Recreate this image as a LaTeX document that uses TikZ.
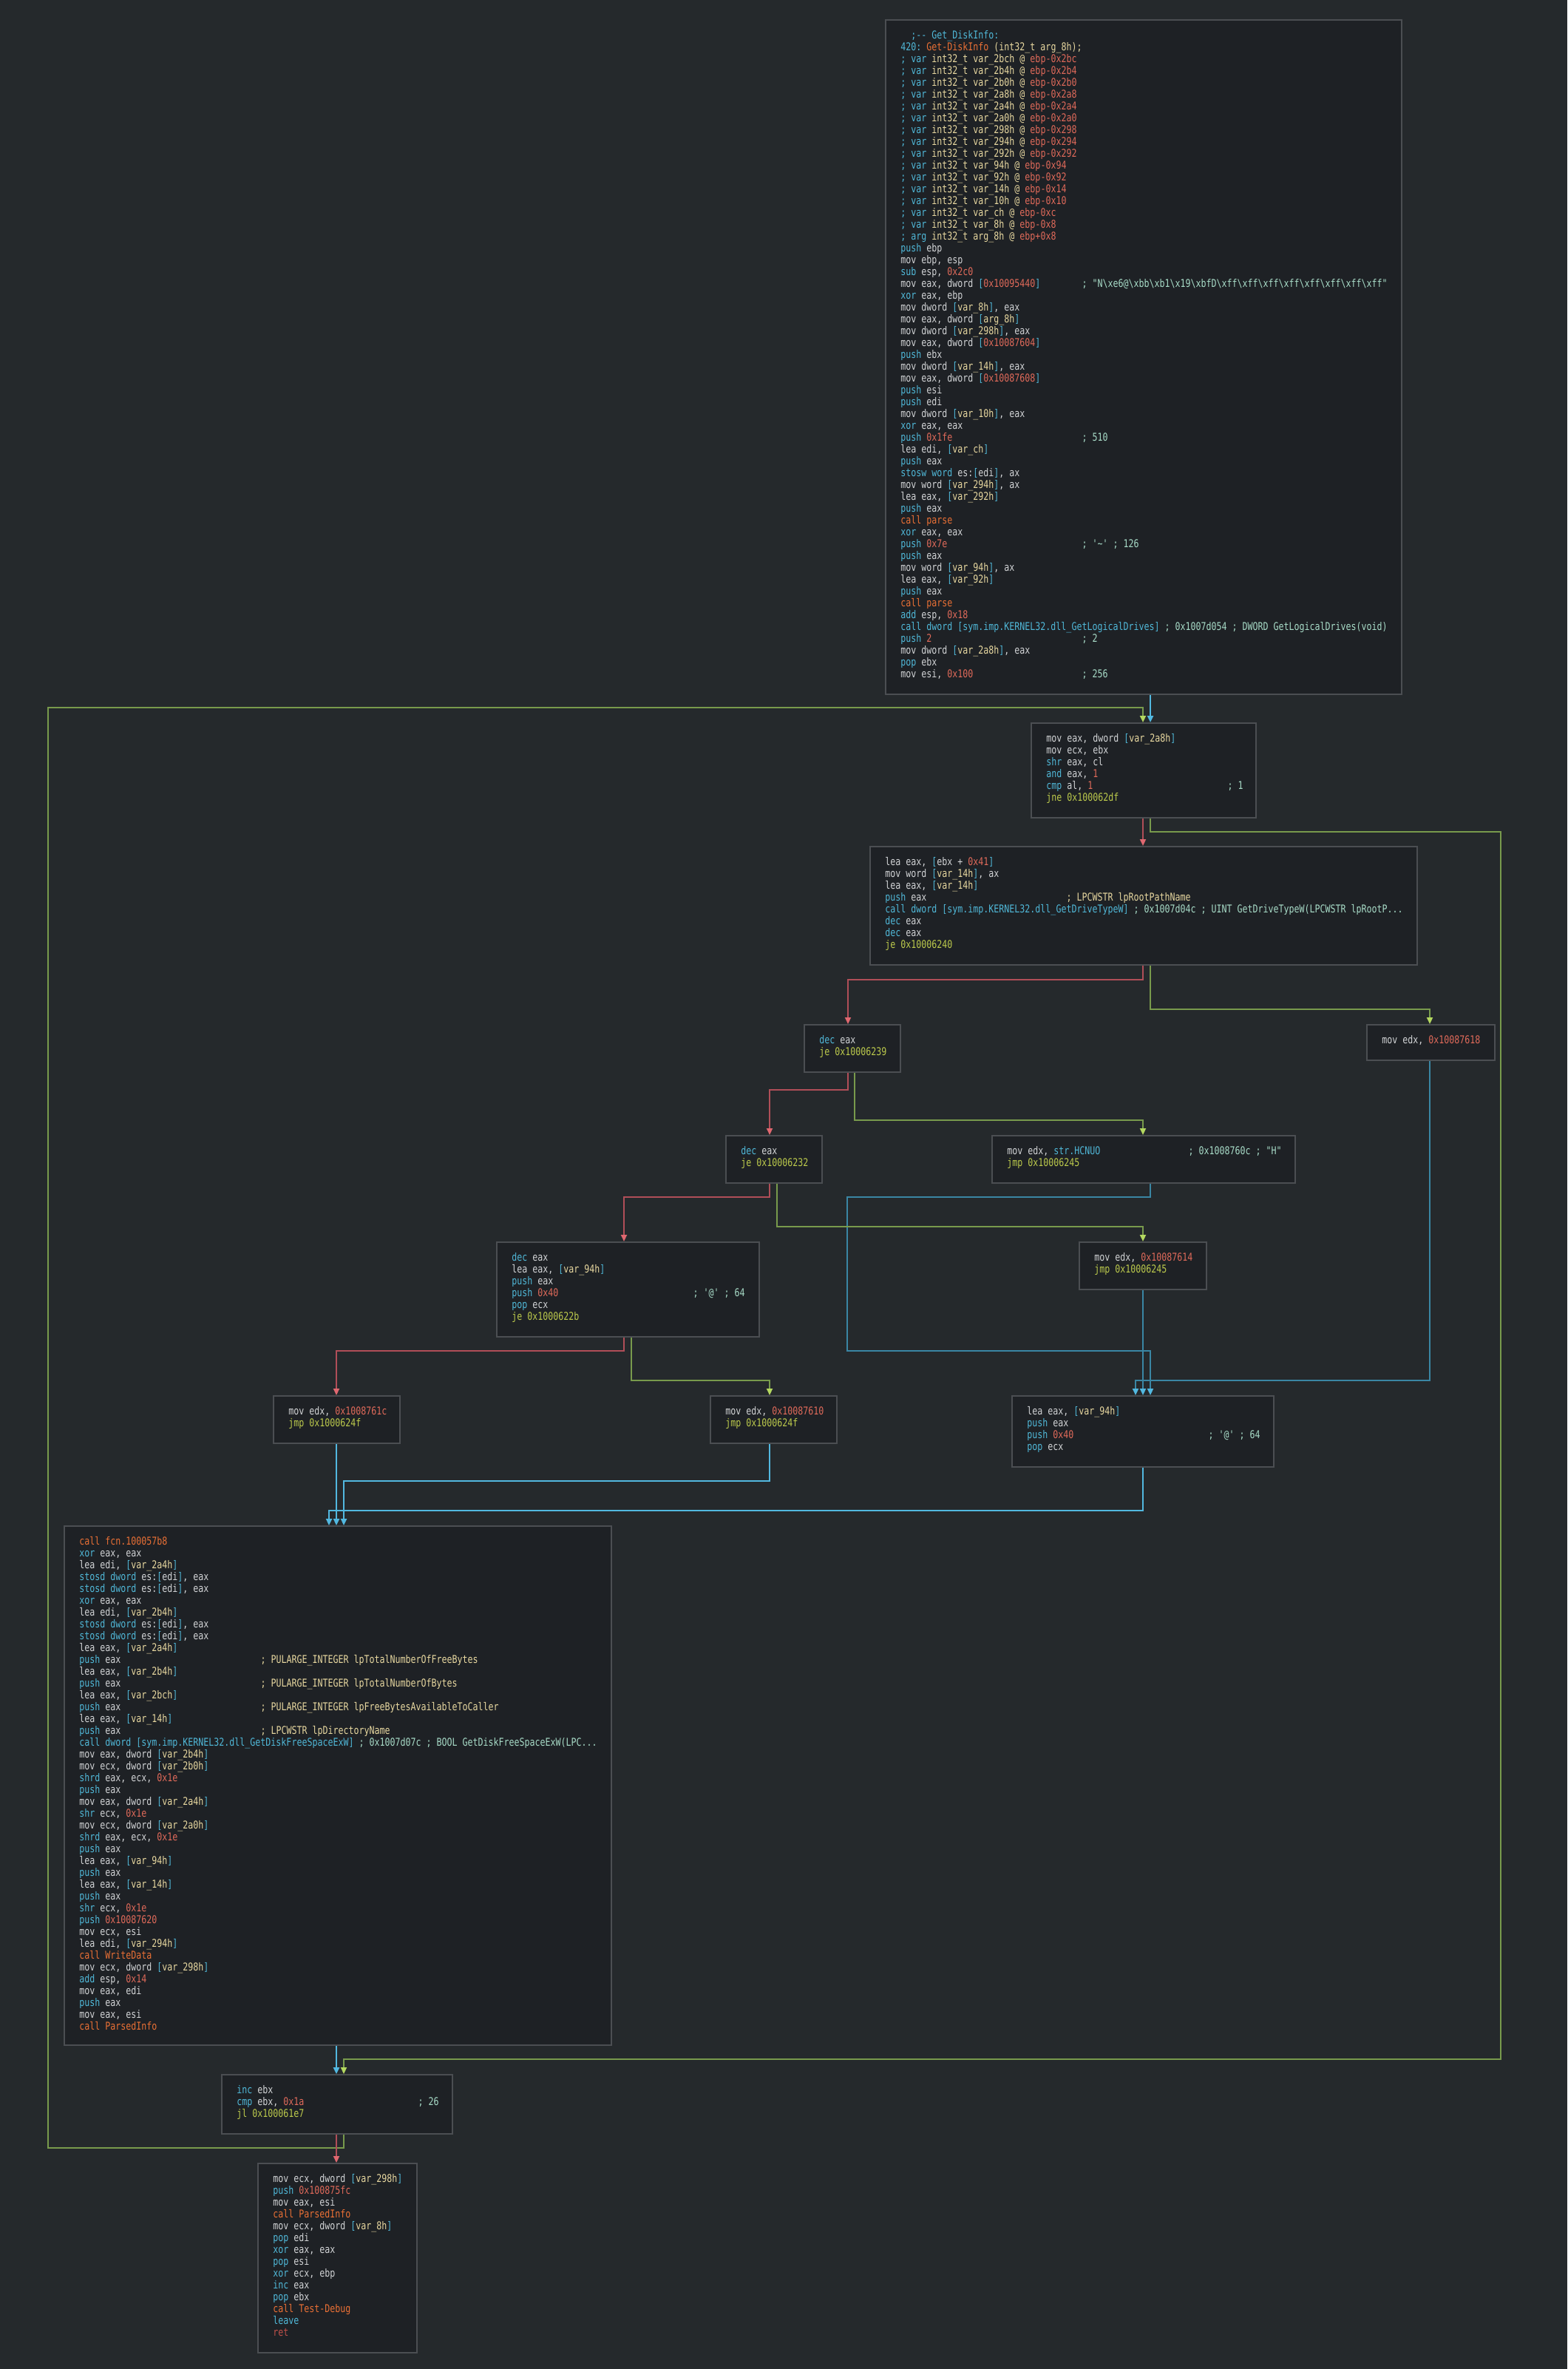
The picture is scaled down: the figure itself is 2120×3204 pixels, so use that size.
\documentclass[tikz,border=0pt]{standalone}
\usepackage{fontspec}
\setmonofont[FakeStretch=0.8]{DejaVu Sans Mono}
\usetikzlibrary{arrows.meta,calc}
\definecolor{bg}{HTML}{25292C}
\definecolor{blkfill}{HTML}{1E2125}
\definecolor{blkline}{HTML}{4B4E52}
\definecolor{ktext}{HTML}{D2D4D6}
\definecolor{kcyan}{HTML}{50B8D8}
\definecolor{knum}{HTML}{E06A5A}
\definecolor{kjmp}{HTML}{BCCA4C}
\definecolor{korg}{HTML}{EA7035}
\definecolor{kvar}{HTML}{E8D8A0}
\definecolor{kcmt}{HTML}{A8DCC8}
\definecolor{kret}{HTML}{C0504A}
\definecolor{lred}{HTML}{B04E58}
\definecolor{hred}{HTML}{E06870}
\definecolor{lgreen}{HTML}{789A4C}
\definecolor{hgreen}{HTML}{B4D860}
\definecolor{lblue}{HTML}{3A86A4}
\definecolor{hblue}{HTML}{52B8E0}
\newlength\cw
\newcommand\codefont{\ttfamily\fontsize{7.27pt}{8pt}\selectfont}
\newcommand\kc[1]{\textcolor{kcyan}{#1}}
\newcommand\kn[1]{\textcolor{knum}{#1}}
\newcommand\kj[1]{\textcolor{kjmp}{#1}}
\newcommand\ko[1]{\textcolor{korg}{#1}}
\newcommand\kv[1]{\textcolor{kvar}{#1}}
\newcommand\kt[1]{\textcolor{kcmt}{#1}}
\newcommand\kb[1]{\kc{[}\kv{#1}\kc{]}}
\newcommand\kbn[1]{\kc{[}\kn{#1}\kc{]}}
\newcommand\cm[2]{\makebox[35\cw][l]{#1}#2}
\newcommand\bs{\textbackslash}
\newcommand\vln[2]{\kc{; var} \kv{int32\_t var\_#1 @} \kn{ebp-0x#2}}
\tikzset{
  blockbox/.style={draw=blkline, fill=blkfill, line width=0.9pt, inner sep=0pt, anchor=north west},
  codetext/.style={font=\codefont, text=ktext, align=left, inner sep=0pt, anchor=north west},
  eR/.style={draw=lred, line width=1pt, -{Triangle[length=4.5pt,width=4pt,color=hred]}},
  eG/.style={draw=lgreen, line width=1pt, -{Triangle[length=4.5pt,width=4pt,color=hgreen]}},
  eB/.style={draw=lblue, line width=1pt, -{Triangle[length=4.5pt,width=4pt,color=hblue]}},
  eBB/.style={draw=hblue, line width=1.2pt, -{Triangle[length=4.5pt,width=4pt,color=hblue]}},
}
\newcommand\mkblock[6]{%
  \node[blockbox, minimum width=#4*0.5pt, minimum height=#5*0.5pt] (#1) at (#2,#3) {};
  \node[codetext] (#1t) at ($(#1.north west)+(21,14)$) {\rule{0pt}{6pt}#6};
}
\begin{document}
\settowidth{\cw}{\codefont x}%
\begin{tikzpicture}[x=0.5pt,y=-0.5pt]
\useasboundingbox (0,0) rectangle (2120,3204);
\fill[bg] (0,0) rectangle (2120,3204);
\foreach \c in {65,445,455,465,844,854,1041,1051,1146,1147,1156,1536,1546,1556,1934,2030}{\coordinate (x\c) at (\c,0);}

\mkblock{b1}{1197}{26}{698}{912}{%
\hspace*{2\cw}\kc{;-{}- Get\_DiskInfo:}\\
\kc{420:} \ko{Get-DiskInfo} \kv{(int32\_t arg\_8h);}\\
\vln{2bch}{2bc}\\
\vln{2b4h}{2b4}\\
\vln{2b0h}{2b0}\\
\vln{2a8h}{2a8}\\
\vln{2a4h}{2a4}\\
\vln{2a0h}{2a0}\\
\vln{298h}{298}\\
\vln{294h}{294}\\
\vln{292h}{292}\\
\vln{94h}{94}\\
\vln{92h}{92}\\
\vln{14h}{14}\\
\vln{10h}{10}\\
\vln{ch}{c}\\
\vln{8h}{8}\\
\kc{; arg} \kv{int32\_t arg\_8h @} \kn{ebp+0x8}\\
\kc{push} ebp\\
mov ebp, esp\\
\kc{sub} esp, \kn{0x2c0}\\
\cm{mov eax, dword \kbn{0x10095440}}{\kt{; "N\bs xe6@\bs xbb\bs xb1\bs x19\bs xbfD\bs xff\bs xff\bs xff\bs xff\bs xff\bs xff\bs xff\bs xff"}}\\
\kc{xor} eax, ebp\\
mov dword \kb{var\_8h}, eax\\
mov eax, dword \kb{arg\_8h}\\
mov dword \kb{var\_298h}, eax\\
mov eax, dword \kbn{0x10087604}\\
\kc{push} ebx\\
mov dword \kb{var\_14h}, eax\\
mov eax, dword \kbn{0x10087608}\\
\kc{push} esi\\
\kc{push} edi\\
mov dword \kb{var\_10h}, eax\\
\kc{xor} eax, eax\\
\cm{\kc{push} \kn{0x1fe}}{\kt{; 510}}\\
lea edi, \kb{var\_ch}\\
\kc{push} eax\\
\kc{stosw word} es:\kc{[}edi\kc{]}, ax\\
mov word \kb{var\_294h}, ax\\
lea eax, \kb{var\_292h}\\
\kc{push} eax\\
\ko{call parse}\\
\kc{xor} eax, eax\\
\cm{\kc{push} \kn{0x7e}}{\kt{; '\textasciitilde' ; 126}}\\
\kc{push} eax\\
mov word \kb{var\_94h}, ax\\
lea eax, \kb{var\_92h}\\
\kc{push} eax\\
\ko{call parse}\\
\kc{add} esp, \kn{0x18}\\
\kc{call dword [sym.imp.KERNEL32.dll\_GetLogicalDrives]} \kt{; 0x1007d054 ; DWORD GetLogicalDrives(void)}\\
\cm{\kc{push} \kn{2}}{\kt{; 2}}\\
mov dword \kb{var\_2a8h}, eax\\
\kc{pop} ebx\\
\cm{mov esi, \kn{0x100}}{\kt{; 256}}}

\mkblock{b2}{1394}{977}{304}{128}{%
mov eax, dword \kb{var\_2a8h}\\
mov ecx, ebx\\
\kc{shr} eax, cl\\
\kc{and} eax, \kn{1}\\
\cm{\kc{cmp} al, \kn{1}}{\kt{; 1}}\\
\kj{jne 0x100062df}}

\mkblock{b3}{1176}{1144}{740}{160}{%
lea eax, \kc{[}ebx + \kn{0x41}\kc{]}\\
mov word \kb{var\_14h}, ax\\
lea eax, \kb{var\_14h}\\
\cm{\kc{push} eax}{\kv{; LPCWSTR lpRootPathName}}\\
\kc{call dword [sym.imp.KERNEL32.dll\_GetDriveTypeW]} \kt{; 0x1007d04c ; UINT GetDriveTypeW(LPCWSTR lpRootP...}\\
\kc{dec} eax\\
\kc{dec} eax\\
\kj{je 0x10006240}}

\mkblock{b4}{1087}{1385}{130}{64}{%
\kc{dec} eax\\
\kj{je 0x10006239}}

\mkblock{b5}{1848}{1385}{173}{48}{%
mov edx, \kn{0x10087618}}

\mkblock{b6}{981}{1535}{130}{64}{%
\kc{dec} eax\\
\kj{je 0x10006232}}

\mkblock{b7}{1341}{1535}{410}{64}{%
\cm{mov edx, \kc{str.HCNUO}}{\kt{; 0x1008760c ; "H"}}\\
\kj{jmp 0x10006245}}

\mkblock{b8}{671}{1679}{355}{128}{%
\kc{dec} eax\\
lea eax, \kb{var\_94h}\\
\kc{push} eax\\
\cm{\kc{push} \kn{0x40}}{\kt{; '@' ; 64}}\\
\kc{pop} ecx\\
\kj{je 0x1000622b}}

\mkblock{b9}{1459}{1679}{172}{64}{%
mov edx, \kn{0x10087614}\\
\kj{jmp 0x10006245}}

\mkblock{b10}{369}{1887}{171}{64}{%
mov edx, \kn{0x1008761c}\\
\kj{jmp 0x1000624f}}

\mkblock{b11}{960}{1887}{171}{64}{%
mov edx, \kn{0x10087610}\\
\kj{jmp 0x1000624f}}

\mkblock{b12}{1368}{1887}{354}{96}{%
lea eax, \kb{var\_94h}\\
\kc{push} eax\\
\cm{\kc{push} \kn{0x40}}{\kt{; '@' ; 64}}\\
\kc{pop} ecx}

\mkblock{b13}{86}{2063}{740}{702}{%
\ko{call fcn.100057b8}\\
\kc{xor} eax, eax\\
lea edi, \kb{var\_2a4h}\\
\kc{stosd dword} es:\kc{[}edi\kc{]}, eax\\
\kc{stosd dword} es:\kc{[}edi\kc{]}, eax\\
\kc{xor} eax, eax\\
lea edi, \kb{var\_2b4h}\\
\kc{stosd dword} es:\kc{[}edi\kc{]}, eax\\
\kc{stosd dword} es:\kc{[}edi\kc{]}, eax\\
lea eax, \kb{var\_2a4h}\\
\cm{\kc{push} eax}{\kv{; PULARGE\_INTEGER lpTotalNumberOfFreeBytes}}\\
lea eax, \kb{var\_2b4h}\\
\cm{\kc{push} eax}{\kv{; PULARGE\_INTEGER lpTotalNumberOfBytes}}\\
lea eax, \kb{var\_2bch}\\
\cm{\kc{push} eax}{\kv{; PULARGE\_INTEGER lpFreeBytesAvailableToCaller}}\\
lea eax, \kb{var\_14h}\\
\cm{\kc{push} eax}{\kv{; LPCWSTR lpDirectoryName}}\\
\kc{call dword [sym.imp.KERNEL32.dll\_GetDiskFreeSpaceExW]} \kt{; 0x1007d07c ; BOOL GetDiskFreeSpaceExW(LPC...}\\
mov eax, dword \kb{var\_2b4h}\\
mov ecx, dword \kb{var\_2b0h}\\
\kc{shrd} eax, ecx, \kn{0x1e}\\
\kc{push} eax\\
mov eax, dword \kb{var\_2a4h}\\
\kc{shr} ecx, \kn{0x1e}\\
mov ecx, dword \kb{var\_2a0h}\\
\kc{shrd} eax, ecx, \kn{0x1e}\\
\kc{push} eax\\
lea eax, \kb{var\_94h}\\
\kc{push} eax\\
lea eax, \kb{var\_14h}\\
\kc{push} eax\\
\kc{shr} ecx, \kn{0x1e}\\
\kc{push} \kn{0x10087620}\\
mov ecx, esi\\
lea edi, \kb{var\_294h}\\
\ko{call WriteData}\\
mov ecx, dword \kb{var\_298h}\\
\kc{add} esp, \kn{0x14}\\
mov eax, edi\\
\kc{push} eax\\
mov eax, esi\\
\ko{call ParsedInfo}}

\mkblock{b14}{299}{2805}{312}{80}{%
\kc{inc} ebx\\
\cm{\kc{cmp} ebx, \kn{0x1a}}{\kt{; 26}}\\
\kj{jl 0x100061e7}}

\mkblock{b15}{348}{2925}{215}{256}{%
mov ecx, dword \kb{var\_298h}\\
\kc{push} \kn{0x100875fc}\\
mov eax, esi\\
\ko{call ParsedInfo}\\
mov ecx, dword \kb{var\_8h}\\
\kc{pop} edi\\
\kc{xor} eax, eax\\
\kc{pop} esi\\
\kc{xor} ecx, ebp\\
\kc{inc} eax\\
\kc{pop} ebx\\
\ko{call Test-Debug}\\
\kc{leave}\\
\textcolor{kret}{ret}}

% connectors
\draw[eBB] (b1.south -| x1556) -- (b2.north -| x1556);
\draw[eG] (b14.south -| x465) -- (465,2905) -- (65,2905) -- (65,957) -- (1546,957) -- (b2.north -| x1546);
\draw[eR] (b2.south -| x1546) -- (b3.north -| x1546);
\draw[eG] (b2.south -| x1556) -- (1556,1125) -- (2030,1125) -- (2030,2785) -- (465,2785) -- (b14.north -| x465);
\draw[eR] (b3.south -| x1546) -- (1546,1325) -- (1147,1325) -- (b4.north -| x1147);
\draw[eG] (b3.south -| x1556) -- (1556,1365) -- (1934,1365) -- (b5.north -| x1934);
\draw[eR] (b4.south -| x1147) -- (1147,1474) -- (1041,1474) -- (b6.north -| x1041);
\draw[eG] (b4.south -| x1156) -- (1156,1515) -- (1546,1515) -- (b7.north -| x1546);
\draw[eB] (b7.south -| x1556) -- (1556,1619) -- (1146,1619) -- (1146,1827) -- (1556,1827) -- (b12.north -| x1556);
\draw[eR] (b6.south -| x1041) -- (1041,1619) -- (844,1619) -- (b8.north -| x844);
\draw[eG] (b6.south -| x1051) -- (1051,1659) -- (1546,1659) -- (b9.north -| x1546);
\draw[eB] (b9.south -| x1546) -- (b12.north -| x1546);
\draw[eB] (b5.south -| x1934) -- (1934,1867) -- (1536,1867) -- (b12.north -| x1536);
\draw[eR] (b8.south -| x844) -- (844,1827) -- (455,1827) -- (b10.north -| x455);
\draw[eG] (b8.south -| x854) -- (854,1867) -- (1041,1867) -- (b11.north -| x1041);
\draw[eBB] (b10.south -| x455) -- (b13.north -| x455);
\draw[eBB] (b11.south -| x1041) -- (1041,2003) -- (465,2003) -- (b13.north -| x465);
\draw[eBB] (b12.south -| x1546) -- (1546,2043) -- (445,2043) -- (b13.north -| x445);
\draw[eBB] (b13.south -| x455) -- (b14.north -| x455);
\draw[eR] (b14.south -| x455) -- (b15.north -| x455);
\end{tikzpicture}
\end{document}
